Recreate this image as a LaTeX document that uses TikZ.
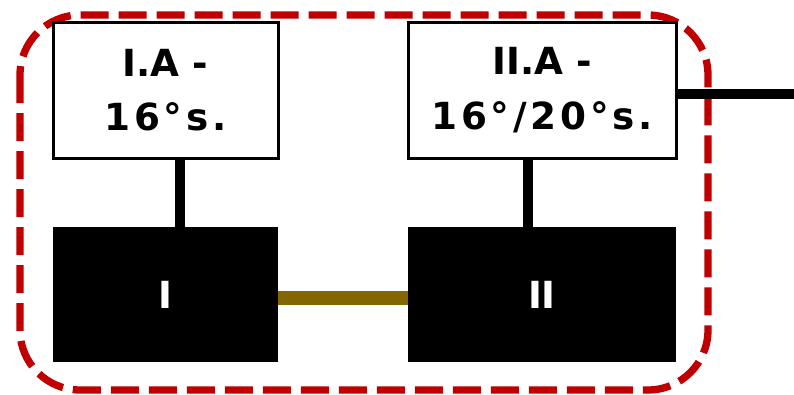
\documentclass[tikz,border=0pt]{standalone}
\usepackage{fontspec}
\setmainfont{DejaVu Sans}
\usetikzlibrary{positioning}
\usetikzlibrary{calc}
\definecolor{grpred}{HTML}{C00000}
\definecolor{busgold}{HTML}{846600}
\newcommand{\spaced}{\addfontfeature{LetterSpace=10}}
\tikzset{%
  wbox/.style = {rectangle,draw,line width=2.25pt,fill=white,align=center,
        inner sep=0pt,font=\bfseries\fontsize{28}{41}\selectfont},
  kbox/.style = {rectangle,fill=black,text=white,inner sep=0pt,
        font=\bfseries\fontsize{28}{34}\selectfont},
  wire/.style = {line width=7.5pt},
  bus/.style = {draw=busgold,line width=11pt},
  grp/.style = {draw=grpred,line width=5.5pt,dash pattern=on 21pt off 7.5pt,
        rounded corners=45pt}
}
\begin{document}
\begin{tikzpicture}[x=0.75pt,y=-0.75pt]
    \useasboundingbox (0,0) rectangle (794,394);
    \draw[grp] (20,15) rectangle (708,390);
    \node[wbox,minimum width=168.75pt,minimum height=102pt] (IA) at (165.5,90) {I.A -\\\spaced 16°s.};
    \node[wbox,minimum width=201pt,minimum height=102pt] (IIA) at (542,90) {II.A -\\\spaced 16°/20°s.};
    \node[kbox,minimum width=168.75pt,minimum height=101.25pt] (I) at (165.5,294.5) {I};
    \node[kbox,minimum width=201pt,minimum height=101.25pt] (II) at (542,294.5) {II};
    \coordinate (out) at (794,94);
    \draw[wire] ([xshift=10.5pt]IA.south) -- ([xshift=10.5pt]I.north);
    \draw[wire] ([xshift=-10.5pt]IIA.south) -- ([xshift=-10.5pt]II.north);
    \draw[wire] (IIA.east |- out) -- (out);
    \draw[bus] ([yshift=-2.5pt]I.east) -- ([yshift=-2.5pt]II.west);
\end{tikzpicture}
\end{document}
